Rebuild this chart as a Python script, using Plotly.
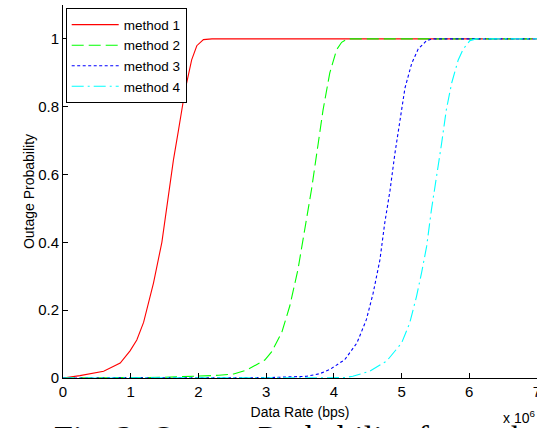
import plotly.graph_objects as go

# Data rate in units of 10^6 bps, outage probability
x_m1 = [0, 0.25, 0.6, 0.845, 0.99, 1.09, 1.19, 1.336, 1.46, 1.577, 1.63, 1.705, 1.804, 1.90, 1.976, 2.074, 2.2, 7]
y_m1 = [0, 0.007, 0.02, 0.044, 0.08, 0.112, 0.164, 0.28, 0.40, 0.575, 0.642, 0.73, 0.85, 0.938, 0.98, 0.998, 1, 1]

x_m2 = [0, 1.5, 2.3, 2.52, 2.71, 2.98, 3.08, 3.23, 3.35, 3.47, 3.57, 3.67, 3.77, 3.84, 3.94, 4.04, 4.115, 4.20, 7]
y_m2 = [0, 0.002, 0.008, 0.012, 0.023, 0.053, 0.077, 0.134, 0.213, 0.32, 0.438, 0.556, 0.693, 0.79, 0.90, 0.968, 0.99, 1.0, 1]

x_m3 = [0, 3.0, 3.6, 3.795, 3.94, 4.16, 4.34, 4.48, 4.58, 4.68, 4.75, 4.83, 4.90, 4.975, 5.05, 5.15, 5.245, 5.37, 5.45, 7]
y_m3 = [0, 0.001, 0.005, 0.013, 0.025, 0.054, 0.103, 0.172, 0.25, 0.348, 0.455, 0.554, 0.66, 0.76, 0.855, 0.928, 0.97, 0.995, 1, 1]

x_m4 = [0, 4.14, 4.28, 4.53, 4.78, 5.0, 5.12, 5.22, 5.295, 5.37, 5.44, 5.52, 5.59, 5.66, 5.74, 5.835, 5.91, 6.01, 6.1, 7]
y_m4 = [0, 0.001, 0.005, 0.02, 0.05, 0.103, 0.162, 0.24, 0.31, 0.388, 0.495, 0.593, 0.69, 0.79, 0.87, 0.937, 0.97, 0.995, 1, 1]

names = ["method 1", "method 2", "method 3", "method 4"]
colors = ["#ff0000", "#00ff00", "#0000ff", "#00ffff"]
dashes = ["solid", "12px,5px", "3px,2.5px", "12px,4px,2px,4px"]

x_ticks = [0, 1, 2, 3, 4, 5, 6, 7]
y_ticks = [0, 0.2, 0.4, 0.6, 0.8, 1]
y_tick_text = ["0", "0.2", "0.4", "0.6", "0.8", "1"]

FONT = "Liberation Sans, Arial, sans-serif"

fig = go.Figure()
for xs, ys, nm, c, d in zip([x_m1, x_m2, x_m3, x_m4], [y_m1, y_m2, y_m3, y_m4], names, colors, dashes):
    fig.add_trace(go.Scatter(x=xs, y=ys, mode="lines", name=nm,
                             line=dict(color=c, width=1.1, dash=d)))

fig.update_layout(
    width=537, height=428,
    margin=dict(l=63, r=0, t=5, b=50, autoexpand=False),
    paper_bgcolor="white", plot_bgcolor="white",
    font=dict(family=FONT, size=15, color="black"),
    showlegend=True,
    legend=dict(x=0.0057, y=0.991, xanchor="left", yanchor="top",
                bgcolor="white", bordercolor="black", borderwidth=1,
                font=dict(family=FONT, size=13.5, color="black"),
                itemwidth=47, tracegroupgap=0),
    xaxis=dict(range=[0, 7], tickvals=x_ticks, ticktext=[str(v) for v in x_ticks],
               ticks="inside", ticklen=5, tickcolor="black", showline=True,
               linecolor="black", linewidth=1, showgrid=False, zeroline=False,
               automargin=False, ticklabeloverflow="allow",
               title=dict(text="Data Rate (bps)", font=dict(size=14), standoff=8)),
    yaxis=dict(range=[0, 1.1], tickvals=y_ticks, ticktext=y_tick_text,
               ticks="inside", ticklen=5, tickcolor="black", showline=True,
               linecolor="black", linewidth=1, showgrid=False, zeroline=False,
               automargin=False,
               title=dict(text="Outage Probability", font=dict(size=14), standoff=0)),
    annotations=[
        dict(text="x 10<sup>6</sup>", xref="paper", yref="paper", x=0.925, y=0,
             xanchor="left", yanchor="top", yshift=-28, showarrow=False,
             font=dict(family=FONT, size=14, color="black")),
        dict(text="Fig. 2: Outage Probability for each", xref="paper", yref="paper",
             x=-0.023, y=0, xanchor="left", yanchor="top", yshift=-39, showarrow=False,
             font=dict(family="Liberation Serif, Times New Roman, serif", size=34, color="black")),
    ],
)

# remove the browser's default 8px body margin so the 537x428 figure fills the window
fig.write_html("out.html", config={"displayModeBar": False},
               post_script="document.body.style.margin='0';document.body.style.overflow='hidden';")
